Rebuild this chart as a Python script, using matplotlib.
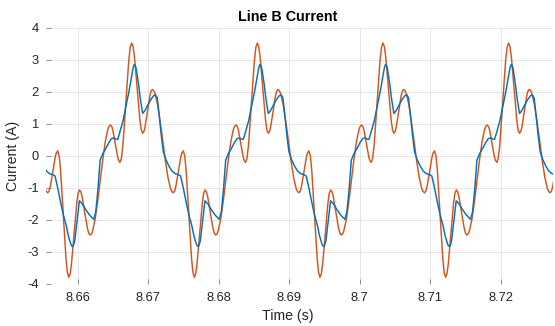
import matplotlib
matplotlib.use("Agg")
import matplotlib.pyplot as plt

plt.rcParams['font.family'] = ['Liberation Sans', 'DejaVu Sans']

# ---- data (time in s, current in A) ----
orange_t = [
    8.65461, 8.65498, 8.65535, 8.65553, 8.65573, 8.65593, 8.65608, 8.65644, 8.65679, 8.65695,
    8.65715, 8.65735, 8.65754, 8.65793, 8.65832, 8.65851, 8.65871, 8.65891, 8.65909, 8.65947,
    8.65985, 8.66003, 8.66023, 8.66043, 8.66061, 8.66098, 8.66136, 8.66154, 8.66174, 8.66194,
    8.66210, 8.66246, 8.66282, 8.66318, 8.66355, 8.66391, 8.66427, 8.66443, 8.66463, 8.66483,
    8.66497, 8.66531, 8.66565, 8.66579,
    8.66598, 8.66618, 8.66640, 8.66681, 8.66723, 8.66744, 8.66764, 8.66784, 8.66803, 8.66842,
    8.66881, 8.66900, 8.66920, 8.66940, 8.66954, 8.66988, 8.67022, 8.67037, 8.67057, 8.67077,
    8.67094, 8.67131, 8.67168, 8.67206, 8.67243, 8.67280, 8.67317, 8.67335, 8.67355, 8.67375,
    8.67390, 8.67426, 8.67461, 8.67477, 8.67497, 8.67517, 8.67536, 8.67575, 8.67614, 8.67633,
    8.67653, 8.67673, 8.67691, 8.67729, 8.67767, 8.67785, 8.67805, 8.67825, 8.67843, 8.67880,
    8.67918, 8.67936, 8.67956, 8.67976, 8.67992, 8.68028, 8.68064, 8.68100, 8.68137, 8.68173,
    8.68209, 8.68225, 8.68245, 8.68265, 8.68279, 8.68313, 8.68347, 8.68361,
    8.68381, 8.68401, 8.68423, 8.68464, 8.68506, 8.68527, 8.68547, 8.68567, 8.68586, 8.68625,
    8.68664, 8.68683, 8.68703, 8.68723, 8.68737, 8.68771, 8.68805, 8.68820, 8.68840, 8.68860,
    8.68877, 8.68914, 8.68951, 8.68989, 8.69026, 8.69063, 8.69100, 8.69118, 8.69138, 8.69158,
    8.69173, 8.69209, 8.69244, 8.69260, 8.69280, 8.69300, 8.69319, 8.69358, 8.69397, 8.69416,
    8.69436, 8.69456, 8.69474, 8.69512, 8.69550, 8.69568, 8.69588, 8.69608, 8.69626, 8.69663,
    8.69701, 8.69719, 8.69739, 8.69759, 8.69775, 8.69811, 8.69847, 8.69883, 8.69920, 8.69956,
    8.69992, 8.70008, 8.70028, 8.70048, 8.70062, 8.70096, 8.70130, 8.70144,
    8.70164, 8.70184, 8.70206, 8.70247, 8.70289, 8.70310, 8.70330, 8.70350, 8.70369, 8.70408,
    8.70447, 8.70466, 8.70486, 8.70506, 8.70520, 8.70554, 8.70588, 8.70603, 8.70623, 8.70643,
    8.70660, 8.70697, 8.70734, 8.70772, 8.70809, 8.70846, 8.70883, 8.70901, 8.70921, 8.70941,
    8.70956, 8.70992, 8.71027, 8.71043, 8.71063, 8.71083, 8.71102, 8.71141, 8.71180, 8.71199,
    8.71219, 8.71239, 8.71257, 8.71295, 8.71333, 8.71351, 8.71371, 8.71391, 8.71409, 8.71446,
    8.71484, 8.71502, 8.71522, 8.71542, 8.71558, 8.71594, 8.71630, 8.71666, 8.71703, 8.71739,
    8.71775, 8.71791, 8.71811, 8.71831, 8.71845, 8.71879, 8.71913, 8.71927,
    8.71947, 8.71967, 8.71989, 8.72030, 8.72072, 8.72093, 8.72113, 8.72133, 8.72152, 8.72191,
    8.72230, 8.72249, 8.72269, 8.72289, 8.72303, 8.72337, 8.72371, 8.72386, 8.72406, 8.72426,
    8.72443, 8.72480, 8.72517, 8.72555, 8.72592, 8.72629, 8.72666, 8.72684, 8.72704, 8.72724,
    8.72739, 8.72775, 8.72810, 8.72826, 8.72846,
]
orange_i = [
    -0.15, -0.68, -1.03, -1.11, -1.15, -1.09, -0.96, -0.50, -0.03, 0.10,
    0.16, 0.00, -0.42, -1.82, -3.21, -3.63, -3.79, -3.68, -3.39, -2.43,
    -1.46, -1.17, -1.06, -1.12, -1.27, -1.77, -2.26, -2.41, -2.47, -2.43,
    -2.34, -1.97, -1.41, -0.75, -0.09, 0.47, 0.84, 0.93, 0.97, 0.91,
    0.80, 0.39, -0.03, -0.14,
    -0.20, -0.07, 0.35, 1.67, 2.99, 3.40, 3.53, 3.42, 3.12, 2.12,
    1.12, 0.82, 0.71, 0.78, 0.91, 1.40, 1.88, 2.01, 2.08, 2.04,
    1.96, 1.61, 1.08, 0.47, -0.15, -0.68, -1.03, -1.11, -1.15, -1.09,
    -0.96, -0.50, -0.03, 0.10, 0.16, 0.00, -0.42, -1.82, -3.21, -3.63,
    -3.79, -3.68, -3.39, -2.43, -1.46, -1.17, -1.06, -1.12, -1.27, -1.77,
    -2.26, -2.41, -2.47, -2.43, -2.34, -1.97, -1.41, -0.75, -0.09, 0.47,
    0.84, 0.93, 0.97, 0.91, 0.80, 0.39, -0.03, -0.14,
    -0.20, -0.07, 0.35, 1.67, 2.99, 3.40, 3.53, 3.42, 3.12, 2.12,
    1.12, 0.82, 0.71, 0.78, 0.91, 1.40, 1.88, 2.01, 2.08, 2.04,
    1.96, 1.61, 1.08, 0.47, -0.15, -0.68, -1.03, -1.11, -1.15, -1.09,
    -0.96, -0.50, -0.03, 0.10, 0.16, 0.00, -0.42, -1.82, -3.21, -3.63,
    -3.79, -3.68, -3.39, -2.43, -1.46, -1.17, -1.06, -1.12, -1.27, -1.77,
    -2.26, -2.41, -2.47, -2.43, -2.34, -1.97, -1.41, -0.75, -0.09, 0.47,
    0.84, 0.93, 0.97, 0.91, 0.80, 0.39, -0.03, -0.14,
    -0.20, -0.07, 0.35, 1.67, 2.99, 3.40, 3.53, 3.42, 3.12, 2.12,
    1.12, 0.82, 0.71, 0.78, 0.91, 1.40, 1.88, 2.01, 2.08, 2.04,
    1.96, 1.61, 1.08, 0.47, -0.15, -0.68, -1.03, -1.11, -1.15, -1.09,
    -0.96, -0.50, -0.03, 0.10, 0.16, 0.00, -0.42, -1.82, -3.21, -3.63,
    -3.79, -3.68, -3.39, -2.43, -1.46, -1.17, -1.06, -1.12, -1.27, -1.77,
    -2.26, -2.41, -2.47, -2.43, -2.34, -1.97, -1.41, -0.75, -0.09, 0.47,
    0.84, 0.93, 0.97, 0.91, 0.80, 0.39, -0.03, -0.14,
    -0.20, -0.07, 0.35, 1.67, 2.99, 3.40, 3.53, 3.42, 3.12, 2.12,
    1.12, 0.82, 0.71, 0.78, 0.91, 1.40, 1.88, 2.01, 2.08, 2.04,
    1.96, 1.61, 1.08, 0.47, -0.15, -0.68, -1.03, -1.11, -1.15, -1.09,
    -0.96, -0.50, -0.03, 0.10, 0.16,
]

blue_t = [
    8.65469, 8.65512, 8.65554, 8.65597, 8.65639, 8.65675, 8.65710, 8.65753, 8.65795, 8.65834,
    8.65866, 8.65898, 8.65913, 8.65927, 8.65941, 8.65956, 8.65987, 8.66022, 8.66065, 8.66108,
    8.66164, 8.66225, 8.66254, 8.66285, 8.66316, 8.66356, 8.66401, 8.66441, 8.66477, 8.66509,
    8.66538, 8.66566,
    8.66598, 8.66641, 8.66683, 8.66726, 8.66768, 8.66785, 8.66801, 8.66815, 8.66829, 8.66858,
    8.66889, 8.66920, 8.66953, 8.66995, 8.67038, 8.67074, 8.67102, 8.67127, 8.67156, 8.67184,
    8.67213, 8.67251, 8.67294, 8.67336, 8.67379, 8.67421, 8.67457, 8.67492, 8.67535, 8.67577,
    8.67616, 8.67648, 8.67680, 8.67695, 8.67709, 8.67723, 8.67738, 8.67769, 8.67804, 8.67847,
    8.67890, 8.67946, 8.68007, 8.68036, 8.68067, 8.68098, 8.68138, 8.68183, 8.68223, 8.68259,
    8.68291, 8.68320, 8.68348,
    8.68381, 8.68424, 8.68466, 8.68509, 8.68551, 8.68568, 8.68584, 8.68598, 8.68612, 8.68641,
    8.68672, 8.68703, 8.68736, 8.68778, 8.68821, 8.68857, 8.68885, 8.68910, 8.68939, 8.68967,
    8.68996, 8.69034, 8.69077, 8.69119, 8.69162, 8.69204, 8.69240, 8.69275, 8.69318, 8.69360,
    8.69399, 8.69431, 8.69463, 8.69478, 8.69492, 8.69506, 8.69521, 8.69552, 8.69587, 8.69630,
    8.69673, 8.69729, 8.69790, 8.69819, 8.69850, 8.69881, 8.69921, 8.69966, 8.70006, 8.70042,
    8.70074, 8.70103, 8.70131,
    8.70164, 8.70207, 8.70249, 8.70292, 8.70334, 8.70351, 8.70367, 8.70381, 8.70395, 8.70424,
    8.70455, 8.70486, 8.70519, 8.70561, 8.70604, 8.70640, 8.70668, 8.70693, 8.70722, 8.70750,
    8.70779, 8.70817, 8.70860, 8.70902, 8.70945, 8.70987, 8.71023, 8.71058, 8.71101, 8.71143,
    8.71182, 8.71214, 8.71246, 8.71261, 8.71275, 8.71289, 8.71304, 8.71335, 8.71370, 8.71413,
    8.71456, 8.71512, 8.71573, 8.71602, 8.71633, 8.71664, 8.71704, 8.71749, 8.71789, 8.71825,
    8.71857, 8.71886, 8.71914,
    8.71947, 8.71990, 8.72032, 8.72075, 8.72117, 8.72134, 8.72150, 8.72164, 8.72178, 8.72207,
    8.72238, 8.72269, 8.72302, 8.72344, 8.72387, 8.72423, 8.72451, 8.72476, 8.72505, 8.72533,
    8.72562, 8.72600, 8.72643, 8.72685, 8.72728, 8.72770, 8.72806,
]
blue_i = [
    -0.12, -0.32, -0.47, -0.55, -0.58, -0.62, -0.95, -1.42, -1.85, -2.16,
    -2.50, -2.74, -2.81, -2.83, -2.77, -2.65, -2.05, -1.40, -1.50, -1.66,
    -1.84, -1.98, -1.75, -1.05, -0.13, 0.08, 0.25, 0.42, 0.54, 0.57,
    0.53, 0.52,
    0.76, 1.10, 1.55, 2.02, 2.55, 2.76, 2.86, 2.83, 2.72, 2.30,
    1.75, 1.33, 1.42, 1.60, 1.77, 1.88, 1.91, 1.82, 1.25, 0.65,
    0.13, -0.12, -0.32, -0.47, -0.55, -0.58, -0.62, -0.95, -1.42, -1.85,
    -2.16, -2.50, -2.74, -2.81, -2.83, -2.77, -2.65, -2.05, -1.40, -1.50,
    -1.66, -1.84, -1.98, -1.75, -1.05, -0.13, 0.08, 0.25, 0.42, 0.54,
    0.57, 0.53, 0.52,
    0.76, 1.10, 1.55, 2.02, 2.55, 2.76, 2.86, 2.83, 2.72, 2.30,
    1.75, 1.33, 1.42, 1.60, 1.77, 1.88, 1.91, 1.82, 1.25, 0.65,
    0.13, -0.12, -0.32, -0.47, -0.55, -0.58, -0.62, -0.95, -1.42, -1.85,
    -2.16, -2.50, -2.74, -2.81, -2.83, -2.77, -2.65, -2.05, -1.40, -1.50,
    -1.66, -1.84, -1.98, -1.75, -1.05, -0.13, 0.08, 0.25, 0.42, 0.54,
    0.57, 0.53, 0.52,
    0.76, 1.10, 1.55, 2.02, 2.55, 2.76, 2.86, 2.83, 2.72, 2.30,
    1.75, 1.33, 1.42, 1.60, 1.77, 1.88, 1.91, 1.82, 1.25, 0.65,
    0.13, -0.12, -0.32, -0.47, -0.55, -0.58, -0.62, -0.95, -1.42, -1.85,
    -2.16, -2.50, -2.74, -2.81, -2.83, -2.77, -2.65, -2.05, -1.40, -1.50,
    -1.66, -1.84, -1.98, -1.75, -1.05, -0.13, 0.08, 0.25, 0.42, 0.54,
    0.57, 0.53, 0.52,
    0.76, 1.10, 1.55, 2.02, 2.55, 2.76, 2.86, 2.83, 2.72, 2.30,
    1.75, 1.33, 1.42, 1.60, 1.77, 1.88, 1.91, 1.82, 1.25, 0.65,
    0.13, -0.12, -0.32, -0.47, -0.55, -0.58, -0.62,
]

x_ticks = [8.66, 8.67, 8.68, 8.69, 8.70, 8.71, 8.72]
x_tick_labels = ["8.66", "8.67", "8.68", "8.69", "8.7", "8.71", "8.72"]
y_ticks = [-4, -3, -2, -1, 0, 1, 2, 3, 4]

# ---- figure ----
W, H = 555, 326
fig = plt.figure(figsize=(W / 100, H / 100), dpi=100)
ax_l, ax_r, ax_t, ax_b = 46, 553, 28, 284
ax = fig.add_axes([ax_l / W, 1 - ax_b / H, (ax_r - ax_l) / W, (ax_b - ax_t) / H])

ax.plot(orange_t, orange_i, color='#D95319', lw=1.05, solid_joinstyle='round')
ax.plot(blue_t, blue_i, color='#0072BD', lw=1.05, solid_joinstyle='round')

ax.set_xlim(8.65548, 8.72744)
ax.set_ylim(-4, 4)
ax.set_xticks(x_ticks)
ax.set_xticklabels(x_tick_labels)
ax.set_yticks(y_ticks)
ax.set_yticklabels([str(v) for v in y_ticks])

for s in ax.spines.values():
    s.set_visible(False)
ax.grid(True, color='#e6e6e6', lw=0.7)
ax.set_axisbelow(True)
ax.tick_params(axis='both', direction='in', length=3.5, width=0.6,
               color='#808080', labelsize=9.3, labelcolor='#262626', pad=5)
ax.tick_params(axis='x', pad=6)

ax.set_title("Line B Current", fontsize=10.3, fontweight='bold', color='#000000',
             x=(288 - ax_l) / (ax_r - ax_l), pad=5)
ax.set_xlabel("Time (s)", fontsize=10.2, color='#262626')
ax.xaxis.set_label_coords((288 - ax_l) / (ax_r - ax_l), -(316 - ax_b) / (ax_b - ax_t))
ax.xaxis.label.set_va('center')
ax.set_ylabel("Current (A)", fontsize=10.2, color='#262626')
ax.yaxis.set_label_coords(-(ax_l - 13) / (ax_r - ax_l), 0.5)
ax.yaxis.label.set_va('center')

fig.savefig("out.png", dpi=100, facecolor='white')
